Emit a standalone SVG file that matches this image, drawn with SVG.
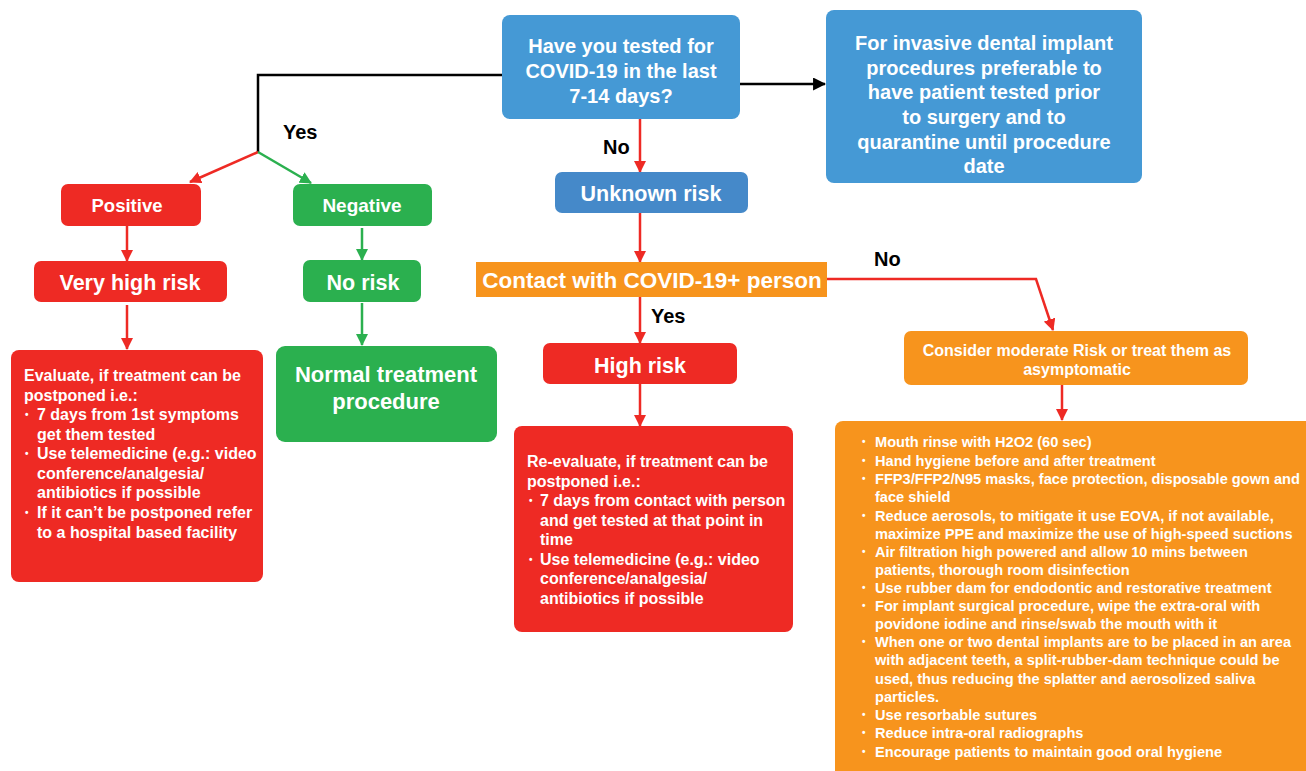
<svg xmlns="http://www.w3.org/2000/svg" width="1306" height="771" viewBox="0 0 1306 771">
<defs>
<style>
.t{font-family:"Liberation Sans",Arial,sans-serif;font-weight:bold;fill:#fff}
.c{text-anchor:middle}
.b{font-size:10px}
.lbl{font-family:"Liberation Sans",Arial,sans-serif;font-weight:bold;fill:#000;font-size:20px}
.red{fill:#ee2a24}
.grn{fill:#2bb04f}
.org{fill:#f7941d}
.blu{fill:#4599d5}
.ln{fill:none;stroke-width:2.5}
</style>
<marker id="ar" viewBox="0 0 12 12" refX="11" refY="6" markerWidth="12" markerHeight="12" markerUnits="userSpaceOnUse" orient="auto"><path d="M0,0 L12,6 L0,12 Z" fill="#ee2a24"/></marker>
<marker id="ag" viewBox="0 0 12 12" refX="11" refY="6" markerWidth="12" markerHeight="12" markerUnits="userSpaceOnUse" orient="auto"><path d="M0,0 L12,6 L0,12 Z" fill="#2bb04f"/></marker>
<marker id="ak" viewBox="0 0 12 12" refX="11" refY="6" markerWidth="13" markerHeight="13" markerUnits="userSpaceOnUse" orient="auto"><path d="M0,0 L12,6 L0,12 Z" fill="#000"/></marker>
</defs>
<rect width="1306" height="771" fill="#fff"/>

<g id="connectors">
<path class="ln" stroke="#000" stroke-width="3" d="M502,75 H258 V152"/>
<path class="ln" stroke="#000" stroke-width="3" d="M740,84 H825" marker-end="url(#ak)"/>
<path class="ln" stroke="#ee2a24" d="M258,152 L190,182" marker-end="url(#ar)"/>
<path class="ln" stroke="#2bb04f" d="M258,152 L311,183" marker-end="url(#ag)"/>
<path class="ln" stroke="#ee2a24" d="M127,226 V261" marker-end="url(#ar)"/>
<path class="ln" stroke="#ee2a24" d="M127,305 V349" marker-end="url(#ar)"/>
<path class="ln" stroke="#2bb04f" d="M362,228 V260" marker-end="url(#ag)"/>
<path class="ln" stroke="#2bb04f" d="M362,303 V345" marker-end="url(#ag)"/>
<path class="ln" stroke="#ee2a24" d="M640,118 V172" marker-end="url(#ar)"/>
<path class="ln" stroke="#ee2a24" d="M640,213 V262" marker-end="url(#ar)"/>
<path class="ln" stroke="#ee2a24" d="M640,297 V343" marker-end="url(#ar)"/>
<path class="ln" stroke="#ee2a24" d="M640,384 V426" marker-end="url(#ar)"/>
<path class="ln" stroke="#ee2a24" d="M827,279 H1036 L1053,330" marker-end="url(#ar)"/>
<path class="ln" stroke="#ee2a24" d="M1062,385 V420" marker-end="url(#ar)"/>
<text class="lbl" x="283" y="139">Yes</text>
<text class="lbl" x="603" y="154">No</text>
<text class="lbl" x="874" y="266">No</text>
<text class="lbl" x="651" y="323">Yes</text>
</g>

<g id="q">
<rect class="blu" x="502" y="15" width="238" height="104" rx="8"/>
<text class="t c" font-size="20" x="621" y="53">Have you tested for</text>
<text class="t c" font-size="20" x="621" y="78">COVID-19 in the last</text>
<text class="t c" font-size="20" x="621" y="103">7-14 days?</text>
</g>

<g id="invasive">
<rect class="blu" x="826" y="10" width="316" height="173" rx="8"/>
<g class="t c" font-size="20">
<text x="984" y="50">For invasive dental implant</text>
<text x="984" y="75">procedures preferable to</text>
<text x="984" y="99">have patient tested prior</text>
<text x="984" y="124">to surgery and to</text>
<text x="984" y="149">quarantine until procedure</text>
<text x="984" y="173">date</text>
</g>
</g>

<g id="positive">
<rect class="red" x="61" y="184" width="140" height="42" rx="7"/>
<text class="t c" font-size="18.5" x="127" y="212">Positive</text>
</g>
<g id="negative">
<rect class="grn" x="293" y="184" width="139" height="42" rx="7"/>
<text class="t c" font-size="19" x="362" y="212">Negative</text>
</g>
<g id="veryhigh">
<rect class="red" x="34" y="261" width="193" height="41" rx="7"/>
<text class="t c" font-size="21.5" x="130" y="290">Very high risk</text>
</g>
<g id="norisk">
<rect class="grn" x="303" y="260" width="118" height="42" rx="7"/>
<text class="t c" font-size="21.5" x="363" y="290">No risk</text>
</g>
<g id="normal">
<rect class="grn" x="276" y="346" width="221" height="96" rx="9"/>
<text class="t c" font-size="22" x="386" y="382">Normal treatment</text>
<text class="t c" font-size="22" x="386" y="409">procedure</text>
</g>

<g id="evaluate">
<rect class="red" x="11" y="350" width="252" height="232" rx="8"/>
<g class="t" font-size="16">
<text x="24" y="381">Evaluate, if treatment can be</text>
<text x="24" y="401">postponed i.e.:</text>
<text class="b" x="25" y="418">•</text><text x="37" y="420">7 days from 1st symptoms</text>
<text x="37" y="440">get them tested</text>
<text class="b" x="25" y="457">•</text><text x="37" y="459">Use telemedicine (e.g.: video</text>
<text x="37" y="479">conference/analgesia/</text>
<text x="37" y="498">antibiotics if possible</text>
<text class="b" x="25" y="516">•</text><text x="37" y="518">If it can’t be postponed refer</text>
<text x="37" y="538">to a hospital based facility</text>
</g>
</g>

<g id="unknown">
<rect x="555" y="172" width="193" height="41" rx="7" fill="#4589c9"/>
<text class="t c" font-size="21.5" x="651" y="201">Unknown risk</text>
</g>

<g id="contact">
<rect class="org" x="476" y="262" width="351" height="35"/>
<text class="t c" font-size="22.5" x="652" y="288">Contact with COVID-19+ person</text>
</g>

<g id="highrisk">
<rect class="red" x="543" y="343" width="194" height="41" rx="7"/>
<text class="t c" font-size="21.5" x="640" y="373">High risk</text>
</g>

<g id="reevaluate">
<rect class="red" x="514" y="426" width="279" height="206" rx="8"/>
<g class="t" font-size="16">
<text x="527" y="467">Re-evaluate, if treatment can be</text>
<text x="527" y="487">postponed i.e.:</text>
<text class="b" x="529" y="504">•</text><text x="540" y="506">7 days from contact with person</text>
<text x="540" y="526">and get tested at that point in</text>
<text x="540" y="545">time</text>
<text class="b" x="529" y="563">•</text><text x="540" y="565">Use telemedicine (e.g.: video</text>
<text x="540" y="584">conference/analgesia/</text>
<text x="540" y="604">antibiotics if possible</text>
</g>
</g>

<g id="moderate">
<rect class="org" x="904" y="331" width="344" height="54" rx="7"/>
<text class="t c" font-size="16" x="1077" y="356">Consider moderate Risk or treat them as</text>
<text class="t c" font-size="16" x="1077" y="375">asymptomatic</text>
</g>

<g id="measures">
<rect class="org" x="835" y="421" width="480" height="360" rx="8"/>
<g class="t" font-size="14.6">
<text class="b" x="862" y="445">•</text><text x="875" y="447">Mouth rinse with H2O2 (60 sec)</text>
<text class="b" x="862" y="464">•</text><text x="875" y="466">Hand hygiene before and after treatment</text>
<text class="b" x="862" y="482">•</text><text x="875" y="484">FFP3/FFP2/N95 masks, face protection, disposable gown and</text>
<text x="875" y="502">face shield</text>
<text class="b" x="862" y="519">•</text><text x="875" y="521">Reduce aerosols, to mitigate it use EOVA, if not available,</text>
<text x="875" y="539">maximize PPE and maximize the use of high-speed suctions</text>
<text class="b" x="862" y="555">•</text><text x="875" y="557">Air filtration high powered and allow 10 mins between</text>
<text x="875" y="575">patients, thorough room disinfection</text>
<text class="b" x="862" y="591">•</text><text x="875" y="593">Use rubber dam for endodontic and restorative treatment</text>
<text class="b" x="862" y="609">•</text><text x="875" y="611">For implant surgical procedure, wipe the extra-oral with</text>
<text x="875" y="629">povidone iodine and rinse/swab the mouth with it</text>
<text class="b" x="862" y="645">•</text><text x="875" y="647">When one or two dental implants are to be placed in an area</text>
<text x="875" y="665">with adjacent teeth, a split-rubber-dam technique could be</text>
<text x="875" y="684">used, thus reducing the splatter and aerosolized saliva</text>
<text x="875" y="702">particles.</text>
<text class="b" x="862" y="718">•</text><text x="875" y="720">Use resorbable sutures</text>
<text class="b" x="862" y="736">•</text><text x="875" y="738">Reduce intra-oral radiographs</text>
<text class="b" x="862" y="755">•</text><text x="875" y="757">Encourage patients to maintain good oral hygiene</text>
</g>
</g>
</svg>
